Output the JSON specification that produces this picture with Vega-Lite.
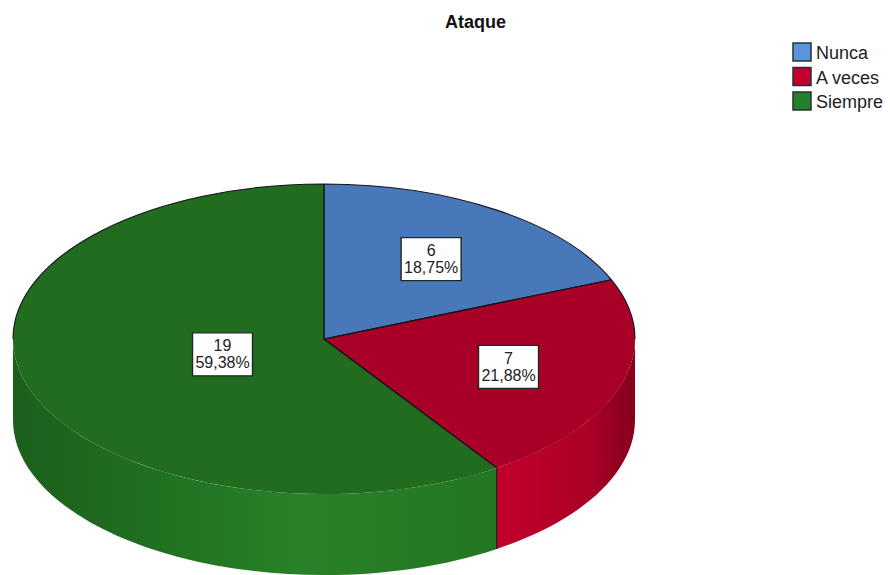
{
  "$schema": "https://vega.github.io/schema/vega-lite/v6.json",
  "width": 890,
  "height": 575,
  "padding": 0,
  "autosize": {"type": "none"},
  "background": "#ffffff",
  "view": {"stroke": null},
  "title": {"text": "Ataque", "anchor": "start", "frame": "group", "dx": 445, "offset": -32, "font": "Liberation Sans", "fontSize": 18, "fontWeight": "bold", "color": "#111111"},
  "params": [
    {"name": "radx", "value": 311},
    {"name": "rady", "value": 155},
    {"name": "wall", "value": 81}
  ],
  "data": {"values": [
    {"categoria": "Nunca", "n": 6, "pct": "18,75%"},
    {"categoria": "A veces", "n": 7, "pct": "21,88%"},
    {"categoria": "Siempre", "n": 19, "pct": "59,38%"}
  ]},
  "transform": [
    {"joinaggregate": [{"op": "sum", "field": "n", "as": "total"}]},
    {"window": [{"op": "sum", "field": "n", "as": "cum"}, {"op": "row_number", "as": "rownum"}]},
    {"calculate": "(datum.cum-datum.n)/datum.total*2*PI", "as": "a0"},
    {"calculate": "datum.cum/datum.total*2*PI", "as": "a1"},
    {"calculate": "round(radx*sin(datum.a0)*100)/100", "as": "x0"},
    {"calculate": "round(-rady*cos(datum.a0)*100)/100", "as": "y0"},
    {"calculate": "round(radx*sin(datum.a1)*100)/100", "as": "x1"},
    {"calculate": "round(-rady*cos(datum.a1)*100)/100", "as": "y1"},
    {"calculate": "'M0,0L'+datum.x0+','+datum.y0+'A'+radx+','+rady+',0,'+(datum.a1-datum.a0>PI?1:0)+',1,'+datum.x1+','+datum.y1+'Z'", "as": "topPath"},
    {"calculate": "max(datum.a0,PI/2)", "as": "s0"},
    {"calculate": "min(datum.a1,3*PI/2)", "as": "s1"},
    {"calculate": "round(radx*sin(datum.s0)*100)/100", "as": "sx0"},
    {"calculate": "round(-rady*cos(datum.s0)*100)/100", "as": "sy0"},
    {"calculate": "round(radx*sin(datum.s1)*100)/100", "as": "sx1"},
    {"calculate": "round(-rady*cos(datum.s1)*100)/100", "as": "sy1"},
    {"calculate": "'M'+datum.sx0+','+datum.sy0+'A'+radx+','+rady+',0,0,1,'+datum.sx1+','+datum.sy1+'L'+datum.sx1+','+(datum.sy1+wall)+'A'+radx+','+rady+',0,0,0,'+datum.sx0+','+(datum.sy0+wall)+'Z'", "as": "sidePath"},
    {"calculate": "datum.a0<PI/2?datum.a0:max(datum.a0,3*PI/2)", "as": "b0"},
    {"calculate": "datum.a0<PI/2?min(datum.a1,PI/2):datum.a1", "as": "b1"},
    {"calculate": "'M'+datum.x0+','+datum.y0+'L0,0L'+datum.x1+','+datum.y1+'M'+(round(radx*sin(datum.b0)*100)/100)+','+(round(-rady*cos(datum.b0)*100)/100)+'A'+radx+','+rady+',0,0,1,'+(round(radx*sin(datum.b1)*100)/100)+','+(round(-rady*cos(datum.b1)*100)/100)+((datum.a0>PI/2&&datum.a0<3*PI/2)?'M'+datum.x0+','+datum.y0+'L'+datum.x0+','+(datum.y0+wall):'')", "as": "edgePath"},
    {"calculate": "(datum.a0+datum.a1)/2", "as": "mid"},
    {"calculate": "datum.n/datum.total>0.5?0.341:0.62", "as": "f"},
    {"calculate": "324+radx*datum.f*sin(datum.mid)", "as": "lx"},
    {"calculate": "339-rady*datum.f*cos(datum.mid)", "as": "ly"},
    {"calculate": "[''+datum.n, datum.pct]", "as": "lines"},
    {"calculate": "52+24.5*(datum.rownum-1)", "as": "legY"}
  ],
  "layer": [
    {
      "transform": [{"filter": "datum.categoria==='Siempre'"}],
      "mark": {"type": "point", "filled": true, "opacity": 1, "size": 4, "fill": {"gradient": "linear", "x1": 0, "x2": 1, "y1": 0, "y2": 0, "stops": [{"offset": 0, "color": "#1c5f1c"}, {"offset": 0.25, "color": "#206d20"}, {"offset": 0.6, "color": "#288228"}, {"offset": 1, "color": "#237623"}]}},
      "encoding": {"x": {"value": 324}, "y": {"value": 339}, "shape": {"field": "sidePath", "type": "nominal", "scale": null}}
    },
    {
      "transform": [{"filter": "datum.categoria==='A veces'"}],
      "mark": {"type": "point", "filled": true, "opacity": 1, "size": 4, "fill": {"gradient": "linear", "x1": 0, "x2": 1, "y1": 0, "y2": 0, "stops": [{"offset": 0, "color": "#c2002b"}, {"offset": 0.65, "color": "#ac0026"}, {"offset": 1, "color": "#85001d"}]}},
      "encoding": {"x": {"value": 324}, "y": {"value": 339}, "shape": {"field": "sidePath", "type": "nominal", "scale": null}}
    },
    {
      "mark": {"type": "point", "filled": true, "opacity": 1, "size": 4},
      "encoding": {
        "x": {"value": 324}, "y": {"value": 339},
        "shape": {"field": "topPath", "type": "nominal", "scale": null},
        "fill": {"field": "categoria", "type": "nominal", "legend": null, "scale": {"domain": ["Nunca", "A veces", "Siempre"], "range": ["#4878b8", "#a80026", "#226c20"]}}
      }
    },
    {
      "mark": {"type": "point", "filled": false, "opacity": 1, "size": 4, "stroke": "#14141e", "strokeWidth": 1.1},
      "encoding": {"x": {"value": 324}, "y": {"value": 339}, "shape": {"field": "edgePath", "type": "nominal", "scale": null}}
    },
    {
      "mark": {"type": "point", "filled": true, "opacity": 1, "size": 4, "fill": "#ffffff", "stroke": "#1c2a24", "strokeWidth": 1.4, "shape": "M-30,-21.5H30V21.5H-30Z"},
      "encoding": {
        "x": {"field": "lx", "type": "quantitative", "scale": null, "axis": null},
        "y": {"field": "ly", "type": "quantitative", "scale": null, "axis": null}
      }
    },
    {
      "mark": {"type": "text", "font": "Liberation Sans", "fontSize": 16, "lineHeight": 17, "align": "center", "baseline": "middle", "dy": -8, "color": "#222222"},
      "encoding": {
        "x": {"field": "lx", "type": "quantitative", "scale": null, "axis": null},
        "y": {"field": "ly", "type": "quantitative", "scale": null, "axis": null},
        "text": {"field": "lines"}
      }
    },
    {
      "mark": {"type": "point", "filled": true, "opacity": 1, "shape": "square", "size": 324, "stroke": "#26303a", "strokeWidth": 1.5},
      "encoding": {
        "x": {"value": 802},
        "y": {"field": "legY", "type": "quantitative", "scale": null, "axis": null},
        "color": {"field": "categoria", "type": "nominal", "legend": null, "scale": {"domain": ["Nunca", "A veces", "Siempre"], "range": ["#5a94dc", "#c4002e", "#23802c"]}}
      }
    },
    {
      "mark": {"type": "text", "font": "Liberation Sans", "fontSize": 18, "align": "left", "baseline": "middle", "dy": 2, "color": "#222222"},
      "encoding": {
        "x": {"value": 816},
        "y": {"field": "legY", "type": "quantitative", "scale": null, "axis": null},
        "text": {"field": "categoria"}
      }
    }
  ]
}
